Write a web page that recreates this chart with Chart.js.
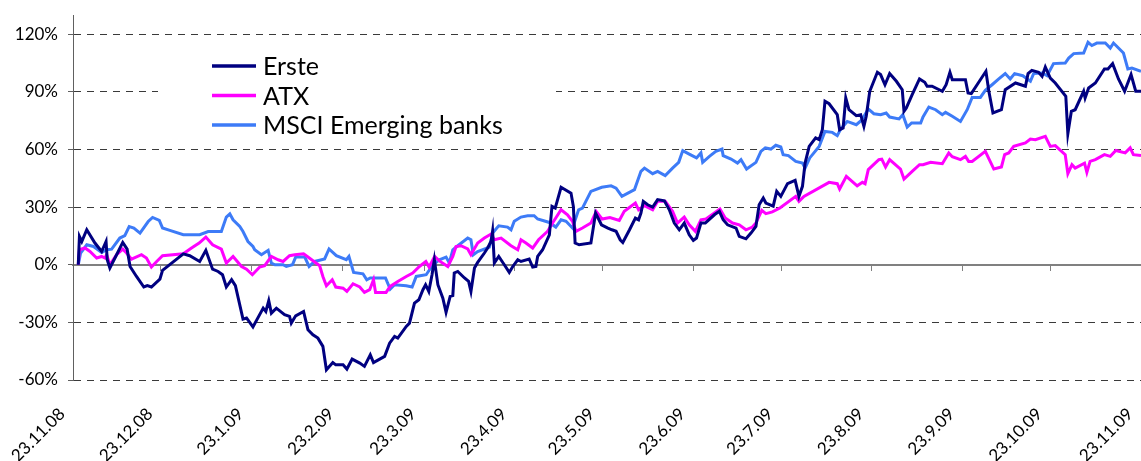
<!DOCTYPE html>
<html>
<head>
<meta charset="utf-8">
<script src="https://cdn.jsdelivr.net/npm/chart.js@4.4.1/dist/chart.umd.min.js"></script>
<style>
  body { margin: 0; background: #fff; }
  #wrap { width: 1141px; height: 461px; }
</style>
</head>
<body>
<div id="wrap"><canvas id="chart" width="1141" height="461"></canvas></div>
<script>
// days counted from 23.11.08
const monthDays = [0, 30, 61, 92, 120, 151, 181, 212, 242, 273, 304, 334, 365];
const monthLabels = ['23.11.08', '23.12.08', '23.1.09', '23.2.09', '23.3.09', '23.4.09', '23.5.09',
  '23.6.09', '23.7.09', '23.8.09', '23.9.09', '23.10.09', '23.11.09'];
const yTicks = [-60, -30, 0, 30, 60, 90, 120];

// [day, % change]
const erste = [[1.8,0],[2.2,14.7],[3,12.1],[4.7,18.2],[7.5,11.3],[9.8,6.9],[11.3,12.1],[11.7,2.6],[12.6,-1.7],[14.9,5.2],[17,11.6],[18.5,8.1],[19.5,-0.9],[21.7,-6.1],[24.2,-11.6],[25.4,-10.9],[26.8,-11.6],[29.7,-7.5],[30.6,-2.9],[37.7,5.7],[39.9,4.7],[43.3,1.7],[45.4,7.5],[47.7,-2.3],[49.6,-3.5],[51.1,-5.2],[52.4,-11.6],[54.2,-7.8],[55.5,-10.9],[58.1,-28.3],[59.3,-27.7],[61.5,-32.4],[65,-22.6],[65.9,-24.3],[66.9,-18.7],[67.8,-25.2],[69.5,-22.6],[72.3,-26],[74,-26.9],[74.6,-30.4],[76.1,-26.6],[78.8,-24.3],[80.3,-33.8],[82,-36.5],[83.7,-38.2],[85.4,-42.5],[86.6,-54.7],[88.8,-50.9],[89.8,-52.1],[92.3,-52.1],[93.6,-54.3],[95.4,-49.1],[98,-51.2],[99.6,-52.9],[101.6,-46.9],[102.7,-50.9],[106.5,-47.7],[108.2,-40.8],[109.9,-37.3],[111,-38.2],[113.9,-32.1],[115,-30.4],[116.7,-20],[118.2,-18.2],[119.6,-13],[120.5,-10.4],[121.6,-13.9],[122.7,-5.2],[123.5,2.6],[124.7,-10.4],[126.4,-17.4],[127.5,-24.8],[128.9,-16.5],[129.8,-16.1],[130.3,-4.3],[131.5,-3.5],[133.8,-6.9],[135.2,-8.7],[136,-13.9],[137.2,-1.7],[138.3,1.2],[140.6,6.1],[141.7,8.7],[142.9,12.2],[143.4,17.4],[144,0.9],[145.5,4.3],[147.4,0],[149.1,-4],[150.3,-0.9],[152,2.6],[153.1,1.7],[155.9,3],[157.1,-1.2],[158.2,-0.9],[158.8,4.3],[160.5,7.8],[162.8,15.6],[163.7,30.4],[164.8,29.5],[166.8,40.3],[170.2,37.3],[171,30.4],[171.6,11.3],[173,10.4],[177,11.3],[178.6,26.9],[180.6,20.8],[182.8,19.1],[184.2,18.2],[185.6,17.4],[187,13],[187.9,11.6],[190.2,18.2],[192.2,24.3],[193.3,23.4],[194.1,26.9],[194.9,33],[196.4,31.2],[198.1,30],[199.8,33.9],[202.1,33.3],[203.8,28.6],[205.5,21.7],[207.2,18.2],[208.9,21.7],[210.6,15.6],[212,12.7],[213.1,13.9],[214.6,21.7],[216.1,21.7],[219.2,26],[220.9,27.8],[222.2,23.4],[223.7,20.8],[226.6,19.1],[227.7,14.8],[230,13.5],[231.7,16.5],[233.4,20],[234.5,31.2],[235.9,34.7],[236.8,32.1],[239.3,30.5],[240.5,38.2],[241.9,35.6],[244.2,42.2],[246.8,43.9],[248.1,35.6],[249.3,40.8],[250.2,52.9],[251.6,61.6],[253.8,66],[255,65.1],[256.1,70.3],[257,85.1],[258.4,83.8],[261.2,78.1],[262,70.3],[263.2,71.2],[264.1,86.8],[265.2,80.7],[267.7,77.6],[269.2,78.1],[270.3,72],[271.1,77.3],[272.3,90.3],[274.9,100.2],[276,99],[277.5,93.7],[279.1,99.5],[281.4,95.5],[283.4,91.1],[284,79.9],[284.8,81.6],[286.8,88.5],[289.3,96.7],[291.1,95],[291.9,92.9],[293.6,92.9],[297.1,90.3],[298.4,93.7],[299.7,100.2],[300.5,96.3],[305,96.3],[305.9,89.4],[307,89.1],[310.1,96.3],[312,100.7],[313,90.3],[314.4,79],[317.3,80.7],[318.6,91.1],[322.1,94.6],[325.5,92.9],[326.4,99.5],[327.7,101.2],[330,100.2],[331.2,98.1],[332.3,102.9],[334,97.2],[335.7,94.6],[339.3,87.7],[340,68.2],[341.2,79.9],[342.5,80.7],[345.4,90.3],[345.9,86.8],[347.1,92],[349.4,94.6],[352.5,101.9],[353.7,101.9],[355.3,104.7],[357.3,96.7],[359.4,90.3],[361.6,99],[363.2,90.3],[365,90.3]];

const atx = [[1.8,0],[2.2,7.8],[4.1,8.7],[5.8,6.9],[8.1,3.5],[9.8,4.3],[10.9,3.5],[11.5,5.2],[12.6,0],[14.9,5.2],[17,8.1],[18.3,6.1],[20,2.9],[23.4,5.2],[25.1,3.5],[26.8,-1.2],[28.6,1.7],[30.6,4.7],[37.7,5.7],[40.5,8.7],[43.1,11.3],[45.4,14.4],[47.7,10.4],[50.7,8.1],[52.4,0.9],[54.7,4.3],[57.6,-0.9],[59.3,-2.3],[61.3,-5.2],[63.8,-1.2],[65.5,-0.5],[67.8,4.3],[70.1,2.6],[71.8,1.7],[74,4.7],[75.8,5.2],[78.8,5.7],[80.3,4],[84.3,-0.5],[85.4,-6.1],[86.6,-10.9],[88.6,-7.8],[89.8,-11.6],[92.3,-12.2],[93.6,-13.9],[95.7,-9.9],[98,-11.6],[99.6,-14.4],[101.4,-13],[102.7,-7.8],[103.4,-14.4],[107,-14.4],[108.4,-11.3],[111,-8.7],[113.9,-6.1],[116.1,-4.3],[118.4,-0.9],[120.6,1.7],[121.7,-1.2],[123.6,4.3],[125.2,2],[128.1,-0.9],[129.8,4.3],[130.9,9.5],[132.6,9.9],[134.9,8.2],[136,5.2],[138.3,11.3],[140.6,13.9],[142.9,16],[144,13],[146.3,13.9],[149.7,9.9],[152,7.8],[153.1,13],[154.8,11.3],[157.1,8.7],[159.1,13],[162.2,17.4],[163.9,21.7],[166.8,28.6],[169,26],[170.7,22.6],[171.9,17.4],[174.1,19.1],[177,21.7],[178.8,27.8],[180.8,23.8],[183.5,24.6],[186.7,23.1],[188.4,27.8],[192.2,32.1],[193.3,28.6],[195.3,30.7],[198.1,28.6],[199.8,33],[202.4,33],[204.9,27.8],[206.6,21.7],[208.9,24.8],[210.6,20.8],[212.7,17.4],[214.6,23.4],[216.3,23.8],[219.2,26.9],[221.1,29],[222.9,24.3],[225.4,21.7],[227.7,20.8],[230,18.2],[232.2,19.6],[233.4,21.7],[235.4,28.3],[236.8,26.6],[239,27.5],[241.6,29.5],[247,35.6],[248.1,33],[249.8,35.6],[258.4,42.9],[261.2,42.2],[262,39.4],[264.3,46],[268,41.1],[269.8,42.9],[270.7,42.2],[271.8,49.5],[275.4,54.7],[276.4,55],[277.7,50.9],[279.1,54.7],[282.8,49.8],[284,44.6],[286.8,48.6],[289.3,52.1],[290.5,52.1],[293.1,53.3],[297.1,52.6],[299.3,58.2],[300.5,56.2],[303.3,54.7],[305,56.4],[306.1,53.8],[307.3,53.8],[311.8,59],[314.7,49.8],[317.3,50.9],[318.4,57.3],[319.8,58.2],[321.5,61.6],[325.5,63.4],[327.2,65.4],[328.9,65.1],[332.3,66.8],[334,61.6],[335.7,62],[339.1,57.3],[340,47.4],[341.4,52.1],[342.5,50.3],[345.7,52.9],[346.5,48.1],[347.6,53.8],[349.4,54.7],[352.5,57.3],[354.5,56.4],[356.4,59.5],[359.6,58.2],[361.3,60.8],[362.4,57.3],[365,56.8]];

const msci = [[1.8,0],[2.6,6.1],[4.7,10.4],[7,9.5],[9.8,6.4],[11.5,7.8],[13.2,8.1],[16,13.9],[17.7,15.1],[19.2,19.9],[20.8,19.1],[22.9,16.5],[25.7,22.5],[27.2,24.6],[29.5,23.1],[30.6,19.1],[33.1,17.9],[37.7,15.6],[43.3,15.6],[46.2,17.3],[50.7,17.3],[52.4,24.8],[53.6,26.5],[54.7,23.4],[57,19.9],[58.1,17.3],[59.8,12.1],[61.5,9.5],[62.1,7.8],[64.4,5.2],[66.7,7.5],[67.8,0.9],[69,0],[71.8,0],[72.9,-0.9],[75,0],[76.1,4],[79.2,4],[80.7,-0.9],[82.6,1.7],[86,3],[87.5,8.2],[90,4.7],[93.4,2.6],[94.3,4.3],[95.9,-4],[99.1,-4.7],[100.4,-7.8],[101.6,-6.9],[106.8,-6.9],[108.4,-12.7],[109.9,-10.4],[113.9,-10.9],[115.9,-11.6],[117.3,-6.1],[120.7,-5.2],[123,0],[125.2,2.6],[127.5,4],[128.6,0.9],[129.8,7.8],[131.5,9.9],[134.9,13.9],[136,13],[136.8,5.2],[138.3,6.9],[142.3,9.2],[143.4,16.5],[145.5,20.3],[148.5,19.6],[149.7,18.2],[150.8,22.6],[153.1,24.8],[155.4,25.5],[157.6,25.5],[158.8,23.8],[162.8,22],[165,19.6],[166.8,23.4],[168.5,22.6],[170.7,19.1],[172.8,28.6],[174.1,29.5],[177,38.2],[180.7,40.3],[183.9,41.1],[185.6,39.9],[187.6,35.6],[191.9,39.1],[194.1,48.6],[195.3,50.3],[198.1,47.4],[199.8,48.6],[202.4,46.4],[204.9,50.3],[207,53.3],[208.4,59.4],[210.6,57.6],[213.1,55.6],[214.6,58.2],[215.2,53.3],[217.5,56.4],[219.7,59],[221.8,60.2],[222.2,56.8],[224.9,55],[227.1,52.9],[228.3,54.7],[230.2,49.8],[233.4,53.3],[235.1,59],[236.6,60.8],[238.5,60.2],[240.2,62.2],[241.9,61.3],[242.7,57.3],[244.5,56.8],[247,53.8],[249.3,52.9],[250.2,50.3],[251.8,55.6],[255,61.6],[257,69.4],[259.5,68.9],[261.2,67.2],[262.4,70.7],[264.6,74.6],[267.7,72.9],[269.5,75.2],[271.8,81.1],[273.7,78.6],[276,78.1],[277.9,79],[279.1,76.9],[282.3,75.9],[283.6,78.1],[285.1,71.7],[286.6,73.8],[289.7,73.8],[290.5,76.9],[292.5,82.1],[294.8,80.7],[297.1,78.1],[298.2,79.3],[300.5,77.3],[303.3,74.6],[305.6,80.7],[307.3,87.1],[310.1,87.1],[311.8,90.8],[314.1,93.7],[316.4,96.7],[318.6,99.5],[320.3,96.7],[321.8,99.5],[324.6,98.4],[327.2,95.5],[328.3,99.5],[331.2,99.8],[332.9,98.4],[335.1,104.7],[339.1,105],[340.3,107.6],[342,109.9],[345.4,110.2],[346.9,115.8],[348.2,114.1],[349.9,115.4],[352.8,115.4],[354.5,112.8],[355.6,115.4],[359,110.2],[360.5,101.9],[361.9,102.4],[365,100.7]];

const seriesNames = ['Erste', 'ATX', 'MSCI Emerging banks'];
const seriesColors = ['#000080', '#ff00ff', '#3d7bf7'];
const seriesData = [erste, atx, msci];

const FONT = 'Lato, "Open Sans", sans-serif';

// legend in a white box over the plot, as in the original
const boxLegend = {
  id: 'boxLegend',
  afterDatasetsDraw(chart) {
    const ctx = chart.ctx;
    ctx.save();
    ctx.fillStyle = '#ffffff';
    ctx.fillRect(158, 46, 398, 94);
    ctx.font = '25px ' + FONT;
    ctx.textBaseline = 'middle';
    chart.data.datasets.forEach((ds, i) => {
      const y = 66 + i * 29.5;
      ctx.strokeStyle = ds.borderColor;
      ctx.lineWidth = 3.5;
      ctx.beginPath();
      ctx.moveTo(212, y);
      ctx.lineTo(256, y);
      ctx.stroke();
      ctx.fillStyle = '#000';
      ctx.fillText(ds.label, 263, y + 1);
    });
    ctx.restore();
  }
};

const monthTicks = scale => { scale.ticks = monthDays.map(v => ({ value: v })); };

new Chart(document.getElementById('chart').getContext('2d'), {
  type: 'line',
  data: {
    datasets: seriesNames.map((name, i) => ({
      label: name,
      data: seriesData[i].map(p => ({ x: p[0], y: p[1] })),
      borderColor: seriesColors[i],
      borderWidth: 3,
      pointRadius: 0,
      tension: 0,
      fill: false,
      xAxisID: 'x',
      yAxisID: 'y'
    }))
  },
  options: {
    responsive: false,
    animation: false,
    layout: { padding: { top: 15, right: 0, bottom: 0, left: 0 } },
    plugins: { legend: { display: false }, tooltip: { enabled: false } },
    scales: {
      x: {
        type: 'linear',
        min: 0,
        max: 365,
        afterBuildTicks: monthTicks,
        grid: { display: false },
        border: { display: false },
        ticks: {
          autoSkip: false,
          maxRotation: 45,
          minRotation: 45,
          padding: 16,
          labelOffset: -11,
          color: '#000',
          font: { family: FONT, size: 17 },
          callback: (v, i) => monthLabels[i]
        },
        afterFit: s => { s.height = 81; s.paddingLeft = 0; s.paddingRight = 0; }
      },
      xZero: {
        type: 'linear',
        position: { y: 0 },
        min: 0,
        max: 365,
        afterBuildTicks: monthTicks,
        grid: { drawOnChartArea: false, drawTicks: true, tickLength: 5, tickColor: '#808080', tickWidth: 1 },
        border: { display: true, color: '#808080', width: 2 },
        ticks: { display: false }
      },
      y: {
        min: -60,
        max: 130,
        afterBuildTicks: s => { s.ticks = yTicks.map(v => ({ value: v })); },
        grid: {
          color: c => (c.tick && c.tick.value === 0) ? 'rgba(0,0,0,0)' : '#3a3a3a',
          lineWidth: 1,
          tickLength: 5,
          tickColor: '#606060'
        },
        border: { display: true, color: '#606060', width: 1, dash: [7, 6] },
        ticks: {
          padding: 10,
          color: '#000',
          font: { family: FONT, size: 17 },
          callback: v => v + '%'
        },
        afterFit: s => { s.width = 73; s.paddingTop = 0; s.paddingBottom = 0; }
      }
    }
  },
  plugins: [boxLegend]
});
</script>
</body>
</html>
